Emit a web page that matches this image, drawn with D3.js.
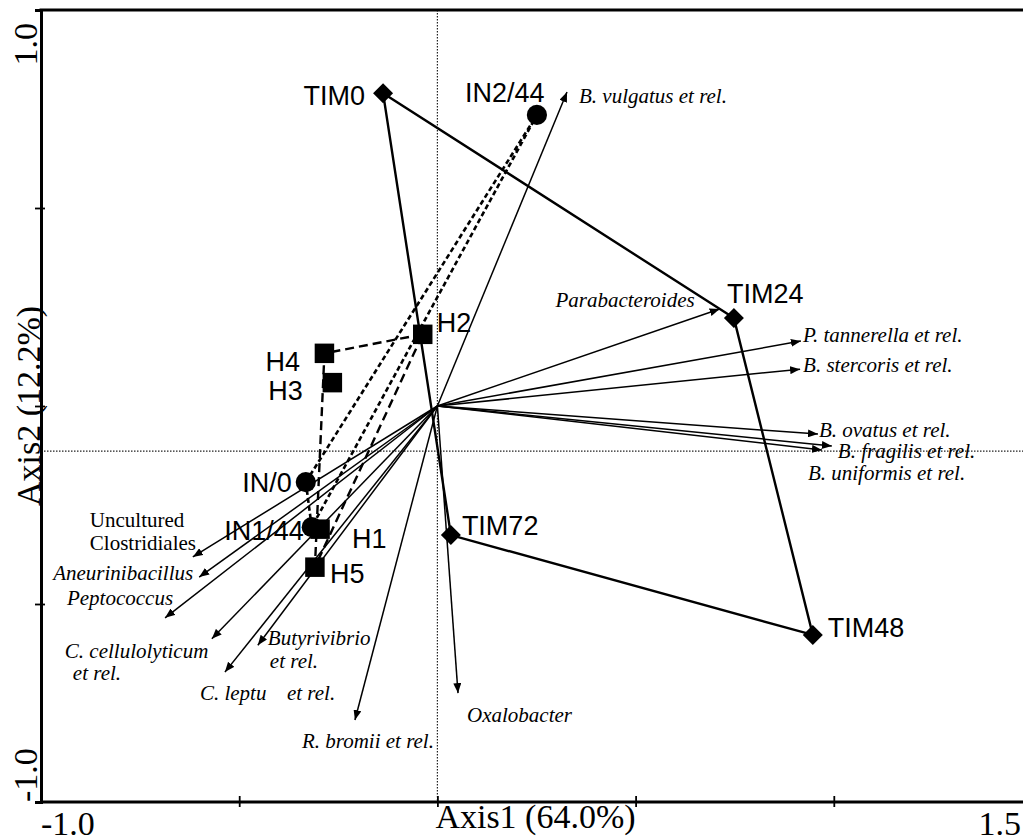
<!DOCTYPE html>
<html>
<head>
<meta charset="utf-8">
<script src="https://cdn.jsdelivr.net/npm/d3@7"></script>
<style>
  body { margin: 0; background: #fff; }
  svg { display: block; }
</style>
</head>
<body>
<svg id="chart" width="1023" height="836"></svg>
<script>
// ---- Sample scores (Axis1, Axis2) ----
const sampleNames = ["TIM0", "TIM24", "TIM48", "TIM72", "IN/0", "IN1/44", "IN2/44", "H1", "H2", "H3", "H4", "H5"];
const sampleAxis1 = [-0.137, 0.748, 0.947, 0.034, -0.332, -0.317, 0.251, -0.296, -0.037, -0.265, -0.285, -0.309];
const sampleAxis2 = [0.790, 0.222, -0.578, -0.326, -0.192, -0.306, 0.735, -0.311, 0.181, 0.059, 0.133, -0.407];
const sampleGroup = ["TIM", "TIM", "TIM", "TIM", "IN", "IN", "IN", "H", "H", "H", "H", "H"];

// Envelopes drawn round each group (closed, in drawing order)
const hullTIM = ["TIM0", "TIM24", "TIM48", "TIM72"];
const hullIN = ["IN/0", "IN1/44", "IN2/44"];
const hullH = ["H2", "H4", "H5"];

// ---- Bacterial group vectors (arrow tips) ----
const taxonNames = [
  "B. vulgatus et rel.", "Parabacteroides", "P. tannerella et rel.", "B. stercoris et rel.",
  "B. ovatus et rel.", "B. fragilis et rel.", "B. uniformis et rel.", "Oxalobacter",
  "R. bromii et rel.", "Uncultured Clostridiales", "Aneurinibacillus", "Peptococcus",
  "C. cellulolyticum et rel.", "C. leptum et rel.", "Butyrivibrio et rel."
];
const taxonAxis1 = [0.327, 0.712, 0.917, 0.915, 0.960, 0.995, 0.970, 0.052, -0.208, -0.617, -0.601, -0.687, -0.569, -0.536, -0.453];
const taxonAxis2 = [0.793, 0.245, 0.164, 0.093, -0.071, -0.101, -0.111, -0.725, -0.793, -0.381, -0.432, -0.535, -0.588, -0.672, -0.604];

// ---- Axes ----
const axis1Domain = [-1.0, 1.5];
const axis2Domain = [-1.0, 1.0];
const axis1Ticks = [-0.5, 0, 0.5, 1.0];
const axis2Ticks = [-0.5, 0, 0.5];
const axis1TickLabels = ["-1.0", "1.5"];
const axis2TickLabels = ["-1.0", "1.0"];
const axis1Title = "Axis1 (64.0%)";
const axis2Title = "Axis2 (12.2%)";
const crossAxis1 = 0.0;     // vertical dotted reference
const crossAxis2 = -0.114;  // horizontal dotted reference

// ---- Layout ----
const W = 1023, H = 836;
const svg = d3.select("#chart");
const x = d3.scaleLinear().domain(axis1Domain).range([41, 1032]);
const y = d3.scaleLinear().domain(axis2Domain).range([802, 10]);

const SERIF = "'Liberation Serif', 'Times New Roman', serif";
const SANS = "'Liberation Sans', Arial, sans-serif";

// Label placement for sample names: offset from marker centre (px), anchor
const sampleLabelPlace = {
  "TIM0":   { dx: -18, dy: 12, anchor: "end" },
  "TIM24":  { dx: -7,  dy: -15, anchor: "start" },
  "TIM48":  { dx: 15,  dy: 2,  anchor: "start" },
  "TIM72":  { dx: 11,  dy: 0,  anchor: "start" },
  "IN/0":   { dx: -14, dy: 10, anchor: "end" },
  "IN1/44": { dx: -8,  dy: 13, anchor: "end" },
  "IN2/44": { dx: -72, dy: -13, anchor: "start" },
  "H1":     { dx: 32,  dy: 19, anchor: "start" },
  "H2":     { dx: 14,  dy: -2, anchor: "start" },
  "H3":     { dx: -64, dy: 17, anchor: "start" },
  "H4":     { dx: -59, dy: 18, anchor: "start" },
  "H5":     { dx: 15,  dy: 16, anchor: "start" }
};

// Label placement for arrows: lines of text, offsets from arrow tip (px)
const taxonLabelPlace = {
  "B. vulgatus et rel.":      { anchor: "start", lines: [{ t: "B. vulgatus et rel.", dx: 12, dy: 11 }] },
  "Parabacteroides":          { anchor: "end",   lines: [{ t: "Parabacteroides", dx: -25, dy: -2 }] },
  "P. tannerella et rel.":    { anchor: "start", lines: [{ t: "P. tannerella et rel.", dx: 2, dy: 1 }] },
  "B. stercoris et rel.":     { anchor: "start", lines: [{ t: "B. stercoris et rel.", dx: 3, dy: 3 }] },
  "B. ovatus et rel.":        { anchor: "start", lines: [{ t: "B. ovatus et rel.", dx: 1, dy: 3 }] },
  "B. fragilis et rel.":      { anchor: "start", lines: [{ t: "B. fragilis et rel.", dx: 6, dy: 12 }] },
  "B. uniformis et rel.":     { anchor: "start", lines: [{ t: "B. uniformis et rel.", dx: -14, dy: 30 }] },
  "Oxalobacter":              { anchor: "start", lines: [{ t: "Oxalobacter", dx: 9, dy: 29 }] },
  "R. bromii et rel.":        { anchor: "start", lines: [{ t: "R. bromii et rel.", dx: -53, dy: 28 }] },
  "Uncultured Clostridiales": { anchor: "start", upright: true,
                                lines: [{ t: "Uncultured", dx: -103, dy: -30 }, { t: "Clostridiales", dx: -103, dy: -7 }] },
  "Aneurinibacillus":         { anchor: "end",   lines: [{ t: "Aneurinibacillus", dx: -6, dy: 3 }] },
  "Peptococcus":              { anchor: "end",   lines: [{ t: "Peptococcus", dx: 8, dy: -13 }] },
  "C. cellulolyticum et rel.":{ anchor: "start", lines: [{ t: "C. cellulolyticum", dx: -147, dy: 19 }, { t: "et rel.", dx: -139, dy: 41 }] },
  "C. leptum et rel.":        { anchor: "start", lines: [{ t: "C. leptu", dx: -25, dy: 28 }, { t: "et rel.", dx: 62, dy: 28 }] },
  "Butyrivibrio et rel.":     { anchor: "start", lines: [{ t: "Butyrivibrio", dx: 10, dy: 0 }, { t: "et rel.", dx: 12, dy: 23 }] }
};

const samples = sampleNames.map((n, i) => ({ name: n, a1: sampleAxis1[i], a2: sampleAxis2[i], group: sampleGroup[i] }));
const byName = new Map(samples.map(d => [d.name, d]));
const taxa = taxonNames.map((n, i) => ({ name: n, a1: taxonAxis1[i], a2: taxonAxis2[i] }));

// Arrowhead marker
svg.append("defs").append("marker")
  .attr("id", "head")
  .attr("viewBox", "0 0 10 8")
  .attr("refX", 10).attr("refY", 4)
  .attr("markerWidth", 10).attr("markerHeight", 8)
  .attr("markerUnits", "userSpaceOnUse")
  .attr("orient", "auto")
  .append("path").attr("d", "M0,0 L10,4 L0,8 Z").attr("fill", "#000");

// Dotted reference lines
svg.append("line")
  .attr("x1", x(crossAxis1)).attr("x2", x(crossAxis1))
  .attr("y1", y(1)).attr("y2", y(-1))
  .attr("stroke", "#222").attr("stroke-width", 1.2).attr("stroke-dasharray", "1.5,1.5");
svg.append("line")
  .attr("x1", x(-1)).attr("x2", W)
  .attr("y1", y(crossAxis2)).attr("y2", y(crossAxis2))
  .attr("stroke", "#222").attr("stroke-width", 1.2).attr("stroke-dasharray", "1.5,1.5");

// Group envelopes
const hullLine = d3.line().x(d => x(d.a1)).y(d => y(d.a2)).curve(d3.curveLinearClosed);
const hulls = [
  { pts: hullTIM, dash: null, width: 2.4 },
  { pts: hullIN, dash: "5,3", width: 2.6 },
  { pts: hullH, dash: "9,5", width: 2.4 }
];
svg.append("g").selectAll("path").data(hulls).join("path")
  .attr("d", h => hullLine(h.pts.map(n => byName.get(n))))
  .attr("fill", "none").attr("stroke", "#000")
  .attr("stroke-width", h => h.width)
  .attr("stroke-dasharray", h => h.dash);

// Taxon arrows from the origin
svg.append("g").selectAll("line").data(taxa).join("line")
  .attr("x1", x(0)).attr("y1", y(0))
  .attr("x2", d => x(d.a1)).attr("y2", d => y(d.a2))
  .attr("stroke", "#000").attr("stroke-width", 1.5)
  .attr("marker-end", "url(#head)");

// Sample markers
const shapeFor = g => g === "TIM" ? d3.symbol(d3.symbolSquare, 200)
                    : g === "IN" ? d3.symbol(d3.symbolCircle, 320)
                    : d3.symbol(d3.symbolSquare, 380);
svg.append("g").selectAll("path").data(samples).join("path")
  .attr("d", d => shapeFor(d.group)())
  .attr("transform", d => `translate(${x(d.a1)},${y(d.a2)})` + (d.group === "TIM" ? " rotate(45)" : ""))
  .attr("fill", "#000");

// Sample labels
svg.append("g").selectAll("text").data(samples).join("text")
  .attr("x", d => x(d.a1) + sampleLabelPlace[d.name].dx)
  .attr("y", d => y(d.a2) + sampleLabelPlace[d.name].dy)
  .attr("text-anchor", d => sampleLabelPlace[d.name].anchor)
  .attr("font-family", SANS).attr("font-size", 27)
  .attr("fill", "#000")
  .text(d => d.name);

// Taxon labels
const tl = svg.append("g");
taxa.forEach(d => {
  const p = taxonLabelPlace[d.name];
  p.lines.forEach(l => {
    tl.append("text")
      .attr("x", x(d.a1) + l.dx).attr("y", y(d.a2) + l.dy)
      .attr("text-anchor", p.anchor)
      .attr("font-family", SERIF).attr("font-size", 21)
      .attr("font-style", p.upright ? "normal" : "italic")
      .attr("fill", "#000")
      .text(l.t);
  });
});

// Axes
const gx = svg.append("g").attr("transform", `translate(0,${y(-1)})`)
  .call(d3.axisBottom(x).tickValues(axis1Ticks).tickFormat("").tickSizeOuter(0).tickSize(6));
gx.select(".domain").attr("stroke-width", 3).attr("d", `M${x(-1)},0H${W}`);
gx.selectAll(".tick line").attr("y1", -6).attr("y2", 5).attr("stroke-width", 1.8);

const gy = svg.append("g").attr("transform", `translate(${x(-1)},0)`)
  .call(d3.axisLeft(y).tickValues(axis2Ticks).tickFormat("").tickSizeOuter(0).tickSize(6));
gy.select(".domain").attr("stroke-width", 3);
gy.selectAll(".tick line").attr("x1", -6).attr("x2", 4).attr("stroke-width", 1.8);

// Top frame line
svg.append("line")
  .attr("x1", x(-1) - 1.5).attr("x2", W)
  .attr("y1", y(1)).attr("y2", y(1))
  .attr("stroke", "#000").attr("stroke-width", 3);

// Axis end labels
svg.append("text").attr("x", x(axis1Domain[0])).attr("y", 835)
  .attr("font-family", SERIF).attr("font-size", 34).attr("text-anchor", "start")
  .text(axis1TickLabels[0]);
svg.append("text").attr("x", x(axis1Domain[1]) - 11).attr("y", 835)
  .attr("font-family", SERIF).attr("font-size", 34).attr("text-anchor", "end")
  .text(axis1TickLabels[1]);
svg.append("text").attr("transform", `translate(37,${y(axis2Domain[0])}) rotate(-90)`)
  .attr("font-family", SERIF).attr("font-size", 34).attr("text-anchor", "start")
  .text(axis2TickLabels[0]);
svg.append("text").attr("transform", `translate(37,${y(axis2Domain[1]) + 13}) rotate(-90)`)
  .attr("font-family", SERIF).attr("font-size", 34).attr("text-anchor", "end")
  .text(axis2TickLabels[1]);

// Axis titles
svg.append("text").attr("x", x(0) - 2).attr("y", 828)
  .attr("font-family", SERIF).attr("font-size", 34).attr("text-anchor", "start")
  .text(axis1Title);
svg.append("text").attr("transform", `translate(40,${y(0)}) rotate(-90)`)
  .attr("font-family", SERIF).attr("font-size", 34).attr("text-anchor", "middle")
  .text(axis2Title);
</script>
</body>
</html>
